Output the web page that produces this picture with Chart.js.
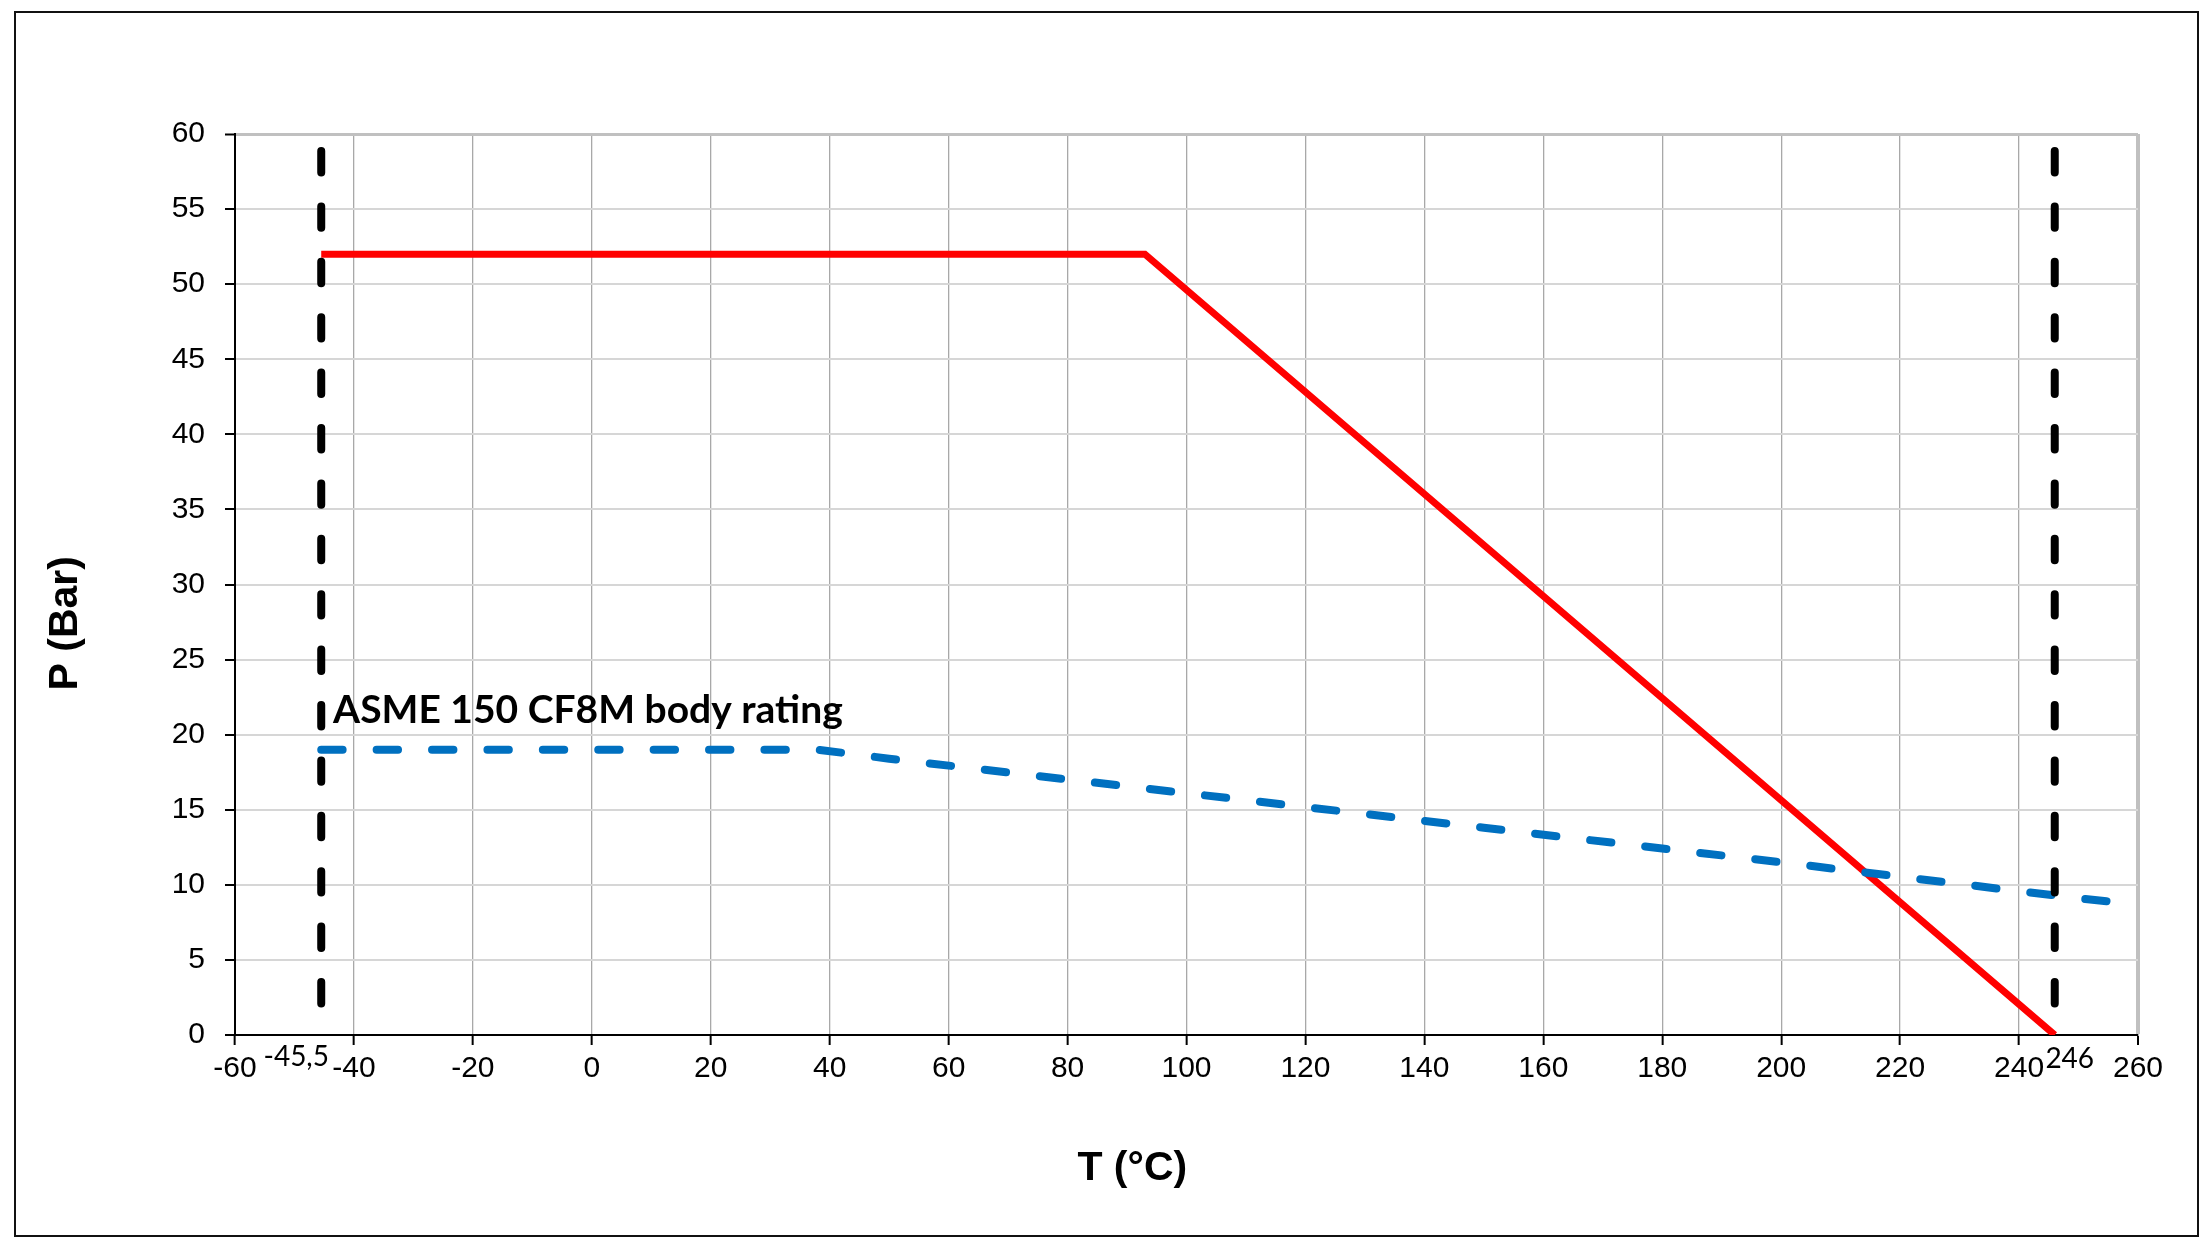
<!DOCTYPE html>
<html>
<head>
<meta charset="utf-8">
<script src="https://cdn.jsdelivr.net/npm/chart.js@4.4.1/dist/chart.umd.min.js"></script>
<style>
html,body{margin:0;padding:0;background:#fff;}
#wrap{position:relative;width:2211px;height:1247px;overflow:hidden;background:#fff;}
#frame{position:absolute;left:14px;top:11px;width:2185px;height:1226px;border:2px solid #111;box-sizing:border-box;pointer-events:none;}
canvas{position:absolute;left:0;top:0;}
</style>
</head>
<body>
<div id="wrap"><canvas id="c" width="2211" height="1247"></canvas><div id="frame"></div></div>
<script>
// ---- data ----
const xTicks = [-60, -40, -20, 0, 20, 40, 60, 80, 100, 120, 140, 160, 180, 200, 220, 240, 260];
const yTicks = [0, 5, 10, 15, 20, 25, 30, 35, 40, 45, 50, 55, 60];
const limitTemps = [-45.5, 246];
const limitLabels = ['-45,5', '246'];
const limitP = [60, 0];
const valveT = [-45.5, 93, 246];
const valveP = [52, 52, 0];
const asmeT = [-45.5, 38, 50, 100, 150, 200, 250, 255];
const asmeP = [19.0, 19.0, 18.4, 16.1, 13.8, 11.5, 9.1, 8.9];
const asmeLabel = 'ASME 150 CF8M body rating';
const xTitle = 'T (°C)';
const yTitle = 'P (Bar)';

const pts = (xs, ys) => xs.map((v, i) => ({x: v, y: ys[i]}));
const dashPattern = [21.4, 34];

const textPlugin = {
  id: 'texts',
  afterDraw(chart) {
    const {ctx, chartArea: a, scales: {x, y}} = chart;
    ctx.save();
    ctx.fillStyle = '#000';
    // series label
    ctx.font = 'bold 39px Lato, "Open Sans", sans-serif';
    ctx.textAlign = 'left';
    ctx.textBaseline = 'alphabetic';
    ctx.fillText(asmeLabel, x.getPixelForValue(-43.5), y.getPixelForValue(20.8));
    // limit labels
    ctx.font = '28px Lato, "Open Sans", sans-serif';
    ctx.textAlign = 'center';
    ctx.fillText(limitLabels[0], x.getPixelForValue(limitTemps[0]) - 25, a.bottom + 31);
    ctx.fillText(limitLabels[1], x.getPixelForValue(limitTemps[1]) + 15, a.bottom + 33);
    // axis titles
    ctx.font = 'bold 41px "Liberation Sans", Arial, sans-serif';
    ctx.textAlign = 'center';
    ctx.fillText(xTitle, a.left + (a.right - a.left) * 0.4715, a.bottom + 145);
    ctx.translate(77, a.top + (a.bottom - a.top) * 0.543);
    ctx.rotate(-Math.PI / 2);
    ctx.fillText(yTitle, 0, 0);
    ctx.restore();
  }
};

const tickFont = {family: '"Liberation Sans", Arial, sans-serif', size: 30};

new Chart(document.getElementById('c'), {
  type: 'scatter',
  data: {
    datasets: [
      {label: 'Min T', data: pts([limitTemps[0], limitTemps[0]], limitP), showLine: true,
       borderColor: '#000', borderWidth: 8, borderDash: dashPattern, borderDashOffset: 38.4,
       borderCapStyle: 'round', pointRadius: 0, order: 0},
      {label: 'Max T', data: pts([limitTemps[1], limitTemps[1]], limitP), showLine: true,
       borderColor: '#000', borderWidth: 8, borderDash: dashPattern, borderDashOffset: 38.4,
       borderCapStyle: 'round', pointRadius: 0, order: 0},
      {label: asmeLabel, data: pts(asmeT, asmeP), showLine: true,
       borderColor: '#0070C0', borderWidth: 8, borderDash: dashPattern,
       borderCapStyle: 'round', borderJoinStyle: 'round', pointRadius: 0, order: 1},
      {label: 'Valve rating', data: pts(valveT, valveP), showLine: true,
       borderColor: '#FF0000', borderWidth: 7, pointRadius: 0, order: 2}
    ]
  },
  options: {
    responsive: false,
    animation: false,
    devicePixelRatio: 1,
    layout: {padding: {left: 0, top: 134, right: 73, bottom: 0}},
    plugins: {legend: {display: false}, tooltip: {enabled: false}},
    scales: {
      x: {
        type: 'linear', min: -60, max: 260,
        afterBuildTicks: s => { s.ticks = xTicks.map(v => ({value: v})); },
        afterFit: s => { s.height = 212; },
        grid: {
          color: c => (c.tick && c.tick.value === 260) ? '#C0C0C0' : '#A8A8A8',
          lineWidth: c => (c.tick && c.tick.value === 260) ? 4 : 1.3,
          tickColor: '#000', tickWidth: 2, tickLength: 10, drawTicks: true
        },
        border: {color: '#000', width: 2},
        ticks: {color: '#000', font: tickFont, padding: 6, maxRotation: 0, autoSkip: false}
      },
      y: {
        type: 'linear', min: 0, max: 60,
        afterBuildTicks: s => { s.ticks = yTicks.map(v => ({value: v})); },
        afterFit: s => { s.width = 235; },
        grid: {
          color: c => (c.tick && c.tick.value === 60) ? '#C0C0C0' : '#D6D6D6',
          lineWidth: c => (c.tick && c.tick.value === 60) ? 3 : 2,
          tickColor: '#000', tickWidth: 2, tickLength: 10, drawTicks: true
        },
        border: {color: '#000', width: 2},
        ticks: {color: '#000', font: tickFont, padding: 20, autoSkip: false}
      }
    }
  },
  plugins: [textPlugin]
});
</script>
</body>
</html>
